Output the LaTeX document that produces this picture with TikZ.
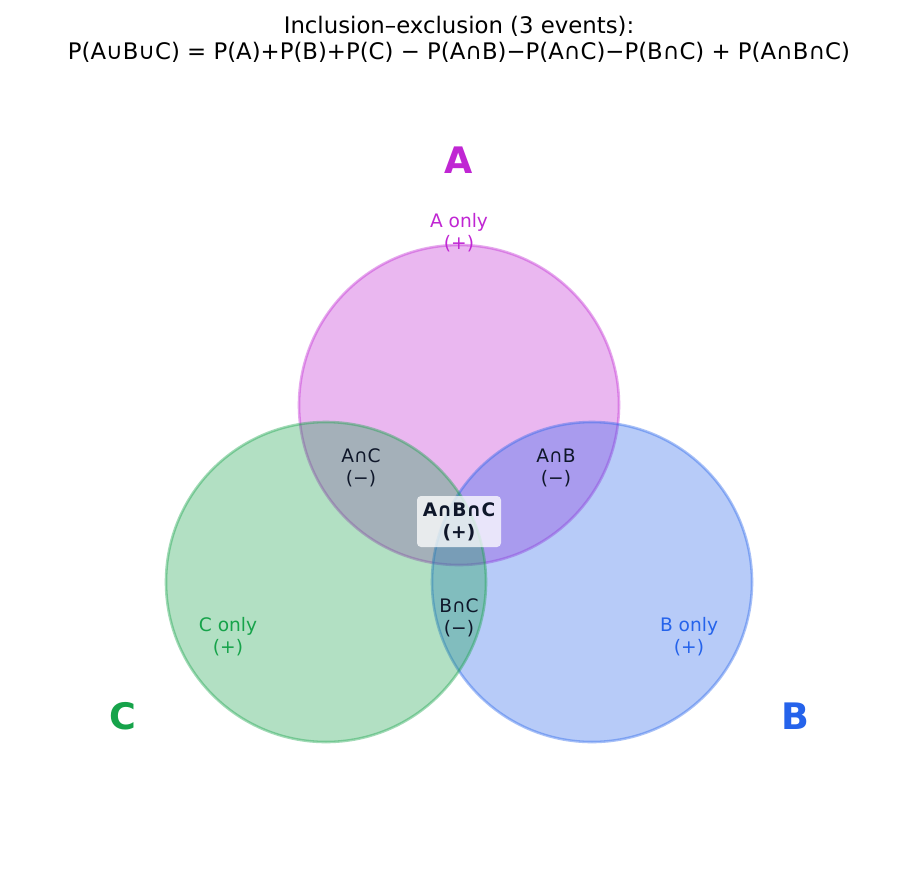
\documentclass[tikz,border=0pt]{standalone}
\usepackage{fontspec}
\setmainfont{DejaVu Sans}
\definecolor{cA}{HTML}{C026D3}
\definecolor{cB}{HTML}{2563EB}
\definecolor{cC}{HTML}{16A34A}
\definecolor{ink}{HTML}{0F172A}
\begin{document}
\begin{tikzpicture}[x=1pt,y=-1pt,
  venn/.style={line width=2.6pt,fill opacity=0.33,draw opacity=0.4},
  lab/.style={align=center,inner sep=0pt,font=\fontsize{18.6}{22.2}\selectfont},
  big/.style={inner sep=0pt,font=\fontsize{36.5}{40}\selectfont\bfseries},
  ttl/.style={align=center,inner sep=0pt,font=\fontsize{22.8}{25.5}\selectfont}]
\useasboundingbox (0,0) rectangle (917,886);
\fill[white] (0,0) rectangle (917,886);
\path[venn,fill=cA,draw=cA] (459,405) circle[radius=160];
\path[venn,fill=cB,draw=cB] (592,582) circle[radius=160];
\path[venn,fill=cC,draw=cC] (326,582) circle[radius=160];
\node[ttl] (title) at (459,39.5) {Inclusion–exclusion (3 events):\\P(A∪B∪C) = P(A)+P(B)+P(C) − P(A∩B)−P(A∩C)−P(B∩C) + P(A∩B∩C)};
\node[big,text=cA] (bigA) at (459,160) {A};
\node[big,text=cB] (bigB) at (795,716) {B};
\node[big,text=cC] (bigC) at (123,716) {C};
\node[lab,text=cA] (aonly) at (459,233) {A only\\(+)};
\node[lab,text=cB] (bonly) at (689,637) {B only\\(+)};
\node[lab,text=cC] (conly) at (228,637) {C only\\(+)};
\node[lab,text=ink] (ac) at (361,468) {A∩C\\(−)};
\node[lab,text=ink] (ab) at (556,468) {A∩B\\(−)};
\node[lab,text=ink] (bc) at (459,618) {B∩C\\(−)};
\node[lab,text=ink,font=\fontsize{18.6}{22.2}\selectfont\bfseries,fill=white,fill opacity=0.75,text opacity=1,rounded corners=4pt,minimum width=84pt,minimum height=51pt] (abc) at (459,521.5) {A∩B∩C\\(+)};
\end{tikzpicture}
\end{document}
